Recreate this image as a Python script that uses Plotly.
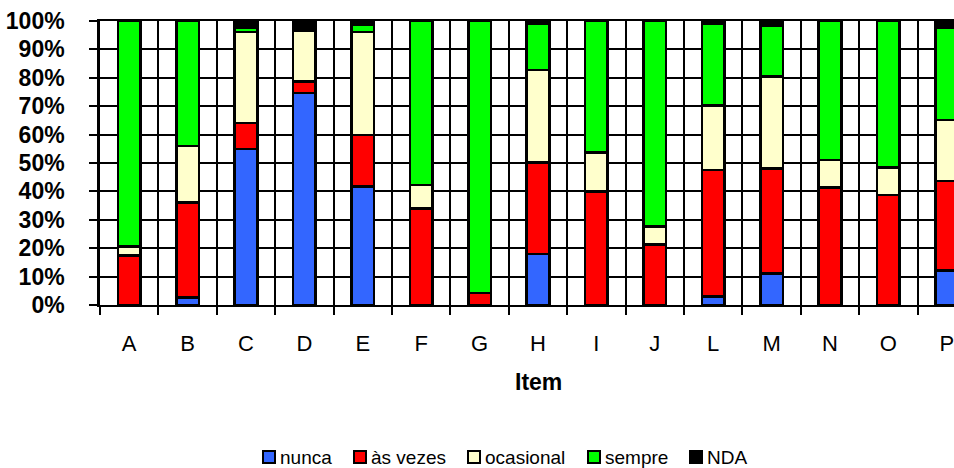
import plotly.graph_objects as go

# Survey answers per item, in percent of respondents
items = ["A", "B", "C", "D", "E", "F", "G", "H", "I", "J", "L", "M", "N", "O", "P"]
nunca = [0, 2.6, 55.0, 74.6, 41.7, 0, 0, 17.9, 0, 0, 2.9, 11.0, 0, 0, 12.1]
as_vezes = [17.5, 33.4, 9.1, 4.1, 18.1, 34.0, 4.2, 32.2, 39.9, 21.2, 44.7, 37.0, 41.3, 38.8, 31.5]
ocasional = [3.2, 20.0, 32.0, 17.8, 36.3, 8.2, 0, 32.7, 13.9, 6.4, 22.6, 32.5, 9.8, 9.7, 21.6]
sempre = [79.3, 44.0, 1.4, 0, 2.7, 57.8, 95.8, 16.2, 46.2, 72.4, 28.8, 18.0, 48.9, 51.5, 32.4]
nda = [0, 0, 2.5, 3.5, 1.2, 0, 0, 1.0, 0, 0, 1.0, 1.5, 0, 0, 2.4]

series_names = ["nunca", "às vezes", "ocasional", "sempre", "NDA"]
series_values = [nunca, as_vezes, ocasional, sempre, nda]
series_colors = ["#3366FF", "#FF0000", "#FFFFCC", "#00FF00", "#000000"]

W, H = 954, 468
ML, MT, MB = 100, 21, 163
PLOT_W = W - ML
PLOT_H = H - MT - MB
CAT_PX = 58.4  # width of one category slot

FONT = "Liberation Sans, Arial, sans-serif"

fig = go.Figure()
for name, vals, col in zip(series_names, series_values, series_colors):
    fig.add_trace(go.Bar(
        x=items, y=vals, name=name, width=0.39,
        marker=dict(color=col, line=dict(color="black", width=2.6)),
        showlegend=False,
    ))


def px_x(px):
    return (px - ML) / PLOT_W


def px_y(py):
    return (H - MB - py) / PLOT_H


# Legend row underneath the chart
legend_left = [263, 354, 468, 588, 690]
shapes = []
annotations = []
for name, col, lx in zip(series_names, series_colors, legend_left):
    shapes.append(dict(
        type="rect", xref="paper", yref="paper",
        x0=px_x(lx), x1=px_x(lx + 12), y0=px_y(451), y1=px_y(463),
        fillcolor=col, line=dict(color="black", width=2),
    ))
    annotations.append(dict(
        text=name, xref="paper", yref="paper",
        x=px_x(lx + 15), y=px_y(457.5), xanchor="left", yanchor="middle",
        showarrow=False, font=dict(family=FONT, size=19, color="black"),
    ))

# Axis title, centred on the full category span
annotations.append(dict(
    text="<b>Item</b>", xref="paper", yref="paper",
    x=px_x(ML + 7.5 * CAT_PX), y=px_y(382), xanchor="center", yanchor="middle",
    showarrow=False, font=dict(family=FONT, size=23, color="black"),
))

fig.update_layout(
    barmode="stack",
    width=W, height=H,
    margin=dict(l=ML, r=0, t=MT, b=MB, pad=0),
    paper_bgcolor="white", plot_bgcolor="white",
    shapes=shapes, annotations=annotations,
    xaxis=dict(
        type="category",
        range=[-0.5, -0.5 + PLOT_W / CAT_PX],
        tickson="boundaries",
        showgrid=True, gridcolor="black", gridwidth=2,
        showline=True, linecolor="black", linewidth=2, mirror=True,
        ticks="outside", ticklen=8, tickwidth=2, tickcolor="black",
        ticklabelstandoff=18,
        tickfont=dict(family=FONT, size=22, color="black"),
    ),
    yaxis=dict(
        range=[0, 100], dtick=10, ticksuffix="%",
        showgrid=True, gridcolor="black", gridwidth=2,
        showline=True, linecolor="black", linewidth=2.5,
        ticks="outside", ticklen=8, tickwidth=2, tickcolor="black",
        ticklabelstandoff=20,
        tickfont=dict(family=FONT, size=23, color="black", weight="bold"),
        zeroline=False,
    ),
)

fig.write_html("out.html")
